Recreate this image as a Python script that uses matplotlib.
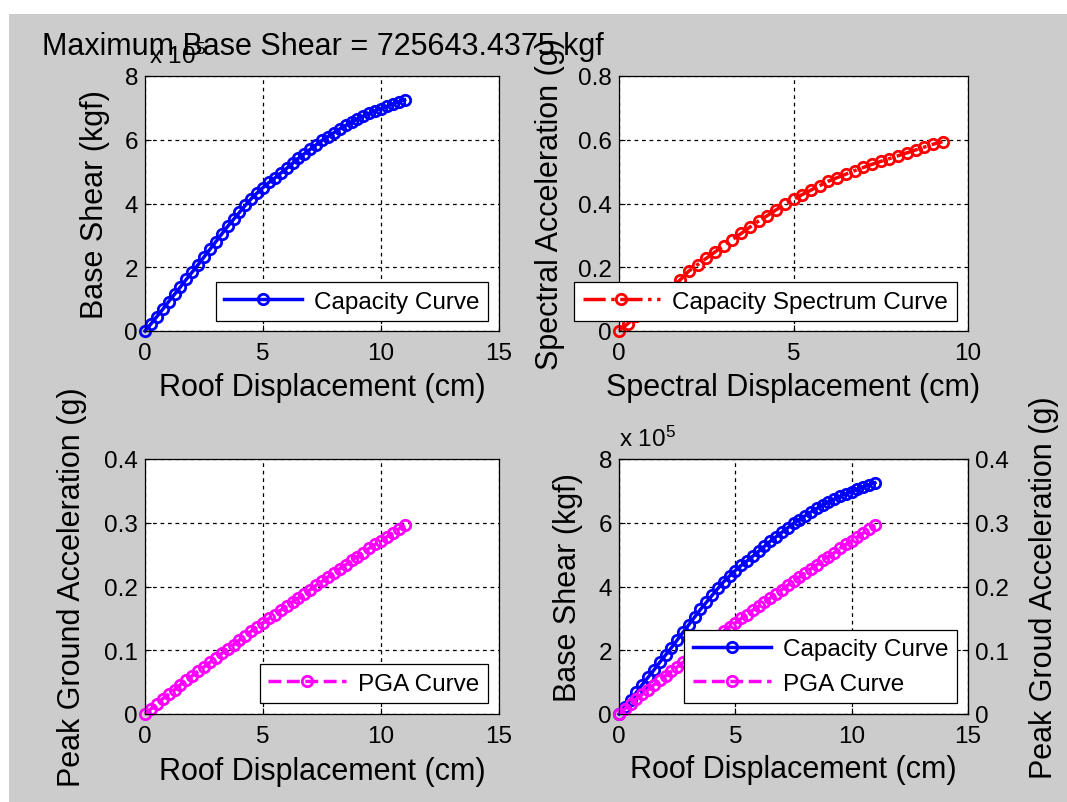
import matplotlib
matplotlib.use('Agg')
import matplotlib.pyplot as plt
from matplotlib.patches import Rectangle
from matplotlib.ticker import FuncFormatter

plt.rcParams['font.family'] = ['Liberation Sans', 'DejaVu Sans']
plt.rcParams['mathtext.fontset'] = 'custom'
plt.rcParams['mathtext.rm'] = 'Liberation Sans'
plt.rcParams['mathtext.it'] = 'Liberation Sans:italic'

# 读图得到的数据
roof_disp = [0, 0.25, 0.5, 0.75, 1.0, 1.25, 1.5, 1.75, 2.0, 2.25, 2.5, 2.75,
             3.0, 3.25, 3.5, 3.75, 4.0, 4.25, 4.5, 4.75, 5.0, 5.25, 5.5, 5.75,
             6.0, 6.25, 6.5, 6.75, 7.0, 7.25, 7.5, 7.75, 8.0, 8.25, 8.5, 8.75,
             9.0, 9.25, 9.5, 9.75, 10.0, 10.25, 10.5, 10.75, 11.0]
# base shear in units of 1e5 kgf
base_shear = [0, 0.22, 0.45, 0.68, 0.92, 1.15, 1.38, 1.62, 1.85, 2.08, 2.32, 2.56,
              2.8, 3.04, 3.28, 3.5, 3.72, 3.94, 4.15, 4.33, 4.5, 4.66, 4.8, 4.95,
              5.1, 5.26, 5.42, 5.56, 5.7, 5.84, 5.98, 6.1, 6.22, 6.34, 6.45, 6.55,
              6.65, 6.74, 6.83, 6.91, 6.98, 7.05, 7.12, 7.19, 7.256]
pga = [0, 0.008, 0.016, 0.024, 0.031, 0.038, 0.046, 0.053, 0.060, 0.067, 0.074, 0.081,
       0.088, 0.095, 0.102, 0.109, 0.116, 0.123, 0.130, 0.137, 0.143, 0.150, 0.156, 0.163,
       0.169, 0.176, 0.182, 0.189, 0.195, 0.202, 0.208, 0.215, 0.221, 0.228, 0.234, 0.241,
       0.247, 0.253, 0.260, 0.266, 0.272, 0.278, 0.284, 0.290, 0.2966]
spec_disp = [0, 0.25, 0.5, 0.75, 1.0, 1.25, 1.5, 1.75, 2.0, 2.25, 2.5, 2.75,
             3.0, 3.25, 3.5, 3.75, 4.0, 4.25, 4.5, 4.75, 5.0, 5.25, 5.5, 5.75,
             6.0, 6.25, 6.5, 6.75, 7.0, 7.25, 7.5, 7.75, 8.0, 8.25, 8.5, 8.75,
             9.0, 9.27]
spec_acc = [0, 0.023, 0.047, 0.07, 0.094, 0.114, 0.135, 0.16, 0.188, 0.208, 0.228, 0.248,
            0.267, 0.287, 0.306, 0.326, 0.345, 0.362, 0.38, 0.397, 0.413, 0.428, 0.442, 0.456,
            0.47, 0.481, 0.492, 0.503, 0.513, 0.523, 0.532, 0.541, 0.55, 0.559, 0.568, 0.577,
            0.586, 0.594]
max_shear = 725643.4375

W, H = 1067, 803
fig = plt.figure(figsize=(W / 100, H / 100), dpi=100, facecolor='white')
fig.patches.append(Rectangle((9 / W, 0), 1 - 9 / W, 1 - 15 / H, transform=fig.transFigure,
                             facecolor='#cccccc', edgecolor='none', zorder=-10))

FS_LAB = 22
FS_TICK = 17.5
num_fmt = FuncFormatter(lambda v, p: '%g' % round(v, 6))

def make_ax(l, t, r, b):
    ax = fig.add_axes([l / W, 1 - b / H, (r - l) / W, (b - t) / H])
    ax.set_facecolor('white')
    ax.grid(True, color='k', linestyle=(0, (3, 3)), linewidth=0.9)
    ax.tick_params(direction='in', length=4, labelsize=FS_TICK, pad=5, width=0.8)
    ax.tick_params(axis='x', pad=8)
    for s in ax.spines.values():
        s.set_linewidth(0.9)
    ax.xaxis.set_major_formatter(num_fmt)
    ax.yaxis.set_major_formatter(num_fmt)
    return ax

def labels(ax, xl, yl, xy, yx):
    ax.set_xlabel(xl, fontsize=FS_LAB, va='center')
    ax.set_ylabel(yl, fontsize=FS_LAB, va='center')
    ax.xaxis.set_label_coords(0.5, xy)
    ax.yaxis.set_label_coords(yx, 0.5)

leg_kw = dict(fontsize=FS_TICK, fancybox=False, framealpha=1, edgecolor='k',
              handlelength=3.2, handletextpad=0.5, borderpad=0.35, numpoints=1,
              borderaxespad=0, loc='lower right')
line_kw = dict(linewidth=2.5, marker='o', markersize=7.5, markeredgewidth=2,
               markerfacecolor='none', clip_on=False)

# 左上: capacity curve
ax1 = make_ax(145, 77, 499, 332)
ax1.plot(roof_disp, base_shear, '-', color='#0000ff', label='Capacity Curve', **line_kw)
ax1.set_xlim(0, 15)
ax1.set_ylim(0, 8)
ax1.set_xticks([0, 5, 10, 15])
ax1.set_yticks([0, 2, 4, 6, 8])
labels(ax1, 'Roof Displacement (cm)', 'Base Shear (kgf)', -0.22, -0.141)
ax1.text(0.01, 1.03, r'x 10$^5$', transform=ax1.transAxes, fontsize=FS_TICK,
         ha='left', va='bottom')
ax1.legend(bbox_to_anchor=(0.969, 0.039), **leg_kw).get_frame().set_linewidth(0.9)

# 右上: capacity spectrum
ax2 = make_ax(619, 77, 968, 332)
ax2.plot(spec_disp, spec_acc, '-.', color='#ff0000', label='Capacity Spectrum Curve', **line_kw)
ax2.set_xlim(0, 10)
ax2.set_ylim(0, 0.8)
ax2.set_xticks([0, 5, 10])
ax2.set_yticks([0, 0.2, 0.4, 0.6, 0.8])
labels(ax2, 'Spectral Displacement (cm)', 'Spectral Acceleration (g)', -0.22, -0.198)
ax2.legend(bbox_to_anchor=(0.968, 0.039), **leg_kw).get_frame().set_linewidth(0.9)

# 左下: PGA
ax3 = make_ax(145, 460, 499, 715)
ax3.plot(roof_disp, pga, '--', color='#ff00ff', label='PGA Curve', **line_kw)
ax3.set_xlim(0, 15)
ax3.set_ylim(0, 0.4)
ax3.set_xticks([0, 5, 10, 15])
ax3.set_yticks([0, 0.1, 0.2, 0.3, 0.4])
labels(ax3, 'Roof Displacement (cm)', 'Peak Ground Acceleration (g)', -0.2235, -0.206)
ax3.legend(bbox_to_anchor=(0.969, 0.043), **leg_kw).get_frame().set_linewidth(0.9)

# 右下: both curves, two y axes
ax4 = make_ax(619, 460, 968, 715)
h1, = ax4.plot(roof_disp, base_shear, '-', color='#0000ff', label='Capacity Curve', **line_kw)
ax4.set_xlim(0, 15)
ax4.set_ylim(0, 8)
ax4.set_xticks([0, 5, 10, 15])
ax4.set_yticks([0, 2, 4, 6, 8])
labels(ax4, 'Roof Displacement (cm)', 'Base Shear (kgf)', -0.216, -0.146)
ax4.text(0.0, 1.03, r'x 10$^5$', transform=ax4.transAxes, fontsize=FS_TICK,
         ha='left', va='bottom')
ax5 = ax4.twinx()
h2, = ax5.plot(roof_disp, pga, '--', color='#ff00ff', label='PGA Curve', **line_kw)
ax5.set_ylim(0, 0.4)
ax5.set_yticks([0, 0.1, 0.2, 0.3, 0.4])
ax5.yaxis.set_major_formatter(num_fmt)
ax5.tick_params(direction='in', length=4, labelsize=FS_TICK, pad=5, width=0.8)
ax5.set_ylabel('Peak Groud Acceleration (g)', fontsize=FS_LAB, va='center', rotation=90)
ax5.yaxis.set_label_coords(1.218, 0.5)
ax5.legend(handles=[h1, h2], bbox_to_anchor=(0.968, 0.043), **leg_kw).get_frame().set_linewidth(0.9)

fig.text(323 / W, 1 - 47 / H, 'Maximum Base Shear = %.4f kgf' % max_shear,
         fontsize=22, ha='center', va='center')

fig.savefig('out.png', dpi=100, facecolor=fig.get_facecolor())
